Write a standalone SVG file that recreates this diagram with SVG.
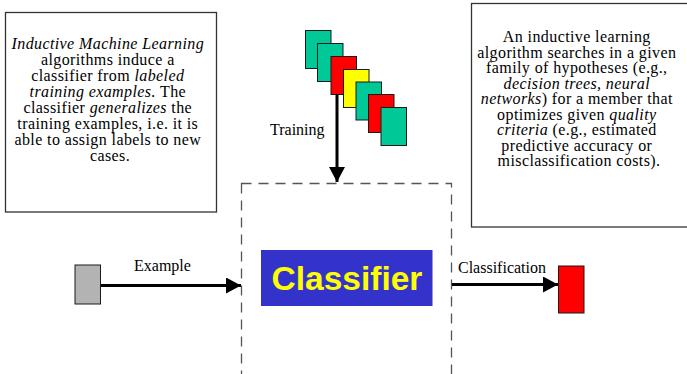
<svg xmlns="http://www.w3.org/2000/svg" width="687" height="374" viewBox="0 0 687 374">
  <style>
    .note { fill: #ffffff; stroke: #333333; stroke-width: 1.3; }
    .body { font-family: "Liberation Serif", "Times New Roman", serif; font-size: 16px; fill: #000000; letter-spacing: 0.4px; }
    .it { font-style: italic; }
    .card { stroke: #1a1a1a; stroke-width: 1; }
    .teal { fill: #00c896; }
    .red { fill: #ff0000; }
    .yellow { fill: #ffff00; }
    .wire { stroke: #000000; stroke-width: 3; fill: none; }
    .label { font-family: "Liberation Serif", "Times New Roman", serif; font-size: 16px; fill: #000000; }
  </style>
  <defs>
    <marker id="head" markerWidth="16" markerHeight="16" refX="15" refY="8" orient="auto" markerUnits="userSpaceOnUse">
      <path d="M0,0 L15,8 L0,16 Z" fill="#000000"/>
    </marker>
  </defs>

  <rect width="687" height="374" fill="#ffffff"/>

  <!-- left note -->
  <g id="note-inductive">
    <rect class="note" x="5.5" y="12.5" width="211" height="199.5"/>
    <text class="body" text-anchor="middle">
      <tspan x="110" y="49" class="it">Inductive Machine Learning</tspan>
      <tspan x="110" y="65">algorithms induce a</tspan>
      <tspan x="110" y="81">classifier from <tspan class="it">labeled</tspan></tspan>
      <tspan x="110" y="97"><tspan class="it">training examples.</tspan> The</tspan>
      <tspan x="110" y="113">classifier <tspan class="it">generalizes</tspan> the</tspan>
      <tspan x="110" y="129">training examples, i.e. it is</tspan>
      <tspan x="110" y="145">able to assign labels to new</tspan>
      <tspan x="110" y="161">cases.</tspan>
    </text>
  </g>

  <!-- right note -->
  <g id="note-search">
    <rect class="note" x="471.5" y="3.5" width="230" height="223.5"/>
    <text class="body" text-anchor="middle">
      <tspan x="579" y="42">An inductive learning</tspan>
      <tspan x="579" y="57.5">algorithm searches in a given</tspan>
      <tspan x="579" y="73">family of hypotheses (e.g.,</tspan>
      <tspan x="579" y="88.5" class="it">decision trees, neural</tspan>
      <tspan x="579" y="104"><tspan class="it">networks</tspan>) for a member that</tspan>
      <tspan x="579" y="119.5">optimizes given <tspan class="it">quality</tspan></tspan>
      <tspan x="579" y="135"><tspan class="it">criteria</tspan> (e.g., estimated</tspan>
      <tspan x="579" y="150.5">predictive accuracy or</tspan>
      <tspan x="579" y="166">misclassification costs).</tspan>
    </text>
  </g>

  <!-- stack of training examples -->
  <g id="training-set">
    <rect class="card teal" x="305.5" y="30.5" width="25.5" height="38"/>
    <rect class="card teal" x="317.5" y="43.5" width="25.5" height="38"/>
    <rect class="card red" x="331" y="56.5" width="25.5" height="38"/>
    <rect class="card yellow" x="343.5" y="69.5" width="25.5" height="38"/>
    <rect class="card teal" x="356" y="82" width="25.5" height="38"/>
    <rect class="card red" x="368.5" y="94.5" width="25.5" height="38"/>
    <rect class="card teal" x="381" y="107.5" width="25.5" height="38"/>
  </g>

  <!-- classifier boundary -->
  <g id="classifier-frame">
    <rect x="241.5" y="183.5" width="210" height="220" fill="none" stroke="#555555" stroke-width="1.3" stroke-dasharray="10,7"/>
  </g>

  <g id="classifier">
    <rect x="261" y="250" width="171.5" height="56" fill="#3333cc"/>
    <text x="347" y="290" text-anchor="middle" font-family="'Liberation Sans', Arial, sans-serif" font-weight="bold" font-size="33.5" fill="#ffff00">Classifier</text>
  </g>

  <g id="example">
    <rect x="75" y="265" width="25.5" height="39" fill="#b3b3b3" stroke="#1a1a1a" stroke-width="1"/>
  </g>

  <g id="classification">
    <rect x="558.5" y="266" width="25.5" height="47" fill="#ff0000" stroke="#1a1a1a" stroke-width="1"/>
  </g>

  <!-- connectors -->
  <g id="connectors">
    <line class="wire" x1="337" y1="94.5" x2="337" y2="182" marker-end="url(#head)"/>
    <line class="wire" x1="101" y1="285.5" x2="241" y2="285.5" marker-end="url(#head)"/>
    <line class="wire" x1="452" y1="284.5" x2="558" y2="284.5" marker-end="url(#head)"/>
    <text class="label" x="270" y="135">Training</text>
    <text class="label" x="134" y="271">Example</text>
    <text class="label" x="458" y="273">Classification</text>
  </g>
</svg>
